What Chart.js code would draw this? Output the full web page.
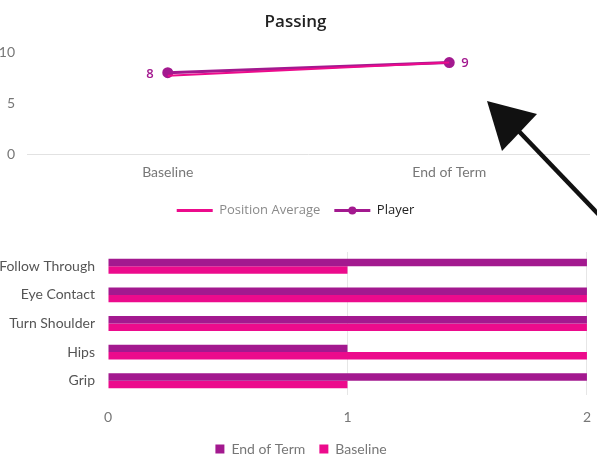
<!DOCTYPE html>
<html>
<head>
<meta charset="utf-8">
<script src="https://cdn.jsdelivr.net/npm/chart.js@4.4.1/dist/chart.umd.min.js"></script>
<style>
    body { margin: 0; background: #fff; width: 597px; height: 461px; overflow: hidden; position: relative; }
    #lineBox { position: absolute; left: 0; top: 0; width: 597px; height: 228px; }
    #barBox { position: absolute; left: 0; top: 228px; width: 605px; height: 238px; }
    #arrow { position: absolute; left: 0; top: 0; pointer-events: none; }
</style>
</head>
<body>
<div id="lineBox"><canvas id="lineChart"></canvas></div>
<div id="barBox"><canvas id="barChart"></canvas></div>
<svg id="arrow" width="597" height="461">
    <line x1="600" y1="216" x2="510" y2="122" stroke="#111" stroke-width="4.5" />
    <polygon points="487,101 537,114 502,151" fill="#111" />
</svg>

<script>
// line chart data
const periods = ["Baseline", "End of Term"];
const positionAverage = [7.7, 9];
const player = [8, 9];
const lineTicks = [0, 5, 10];

// bar chart data
const skills = ["Follow Through", "Eye Contact", "Turn Shoulder", "Hips", "Grip"];
const endOfTerm = [2, 2, 2, 1, 2];
const baseline = [1, 2, 2, 2, 1];

const purple = "#a3198f";
const pink = "#ec0b8c";
const tickFont = { family: "Lato", size: 14 };

// draws the 8 / 9 labels next to the player points and the marker in the legend
const playerExtras = {
    id: "playerExtras",
    afterDatasetsDraw(chart) {
        const ctx = chart.ctx;
        const meta = chart.getDatasetMeta(1);
        ctx.save();
        ctx.fillStyle = purple;
        ctx.font = "600 13px 'Open Sans'";
        ctx.textBaseline = "middle";
        meta.data.forEach((pt, i) => {
            const txt = String(player[i]);
            if (i === 0) {
                ctx.textAlign = "right";
                ctx.fillText(txt, pt.x - 14, pt.y + 2);
            } else {
                ctx.textAlign = "left";
                ctx.fillText(txt, pt.x + 12, pt.y + 1);
            }
        });
        ctx.restore();
    },
    afterDraw(chart) {
        const box = chart.legend.legendHitBoxes[1];
        if (!box) return;
        const ctx = chart.ctx;
        ctx.save();
        ctx.fillStyle = purple;
        ctx.beginPath();
        ctx.arc(box.left + 18, box.top + box.height / 2, 4, 0, Math.PI * 2);
        ctx.fill();
        ctx.restore();
    }
};

new Chart(document.getElementById("lineChart").getContext("2d"), {
    type: "line",
    data: {
        labels: periods,
        datasets: [{
            label: "Position Average",
            data: positionAverage,
            borderColor: pink,
            backgroundColor: pink,
            borderWidth: 2,
            pointRadius: 0,
            fill: false,
            tension: 0
        }, {
            label: "Player",
            data: player,
            borderColor: purple,
            backgroundColor: purple,
            borderWidth: 3,
            pointRadius: 4,
            pointHoverRadius: 4,
            fill: false,
            tension: 0
        }]
    },
    options: {
        responsive: true,
        maintainAspectRatio: false,
        animation: false,
        layout: { padding: { top: 12, right: 6, bottom: 1, left: 0 } },
        plugins: {
            title: {
                display: true,
                text: "Passing",
                color: "#222",
                font: { family: "Open Sans", size: 17, weight: "600" },
                padding: { top: 0, bottom: 20 }
            },
            legend: {
                position: "bottom",
                labels: {
                    boxWidth: 36,
                    boxHeight: 3,
                    padding: 14,
                    font: { family: "Open Sans", size: 13 },
                    generateLabels(chart) {
                        return chart.data.datasets.map((ds, i) => ({
                            text: ds.label,
                            fillStyle: ds.borderColor,
                            strokeStyle: ds.borderColor,
                            lineWidth: 0,
                            fontColor: i === 0 ? "#8a8a8a" : "#222",
                            hidden: false,
                            datasetIndex: i
                        }));
                    }
                }
            },
            tooltip: { enabled: false }
        },
        scales: {
            x: {
                offset: true,
                afterFit(scale) { scale.height = 36; },
                grid: { display: false },
                border: { display: false },
                ticks: { color: "#777", font: tickFont, padding: 2 }
            },
            y: {
                min: 0,
                max: 10,
                afterFit(scale) { scale.width = 27; },
                grid: {
                    drawTicks: false,
                    color: (c) => c.tick && c.tick.value === 0 ? "#e2e2e2" : "rgba(0,0,0,0)"
                },
                border: { display: false },
                ticks: {
                    stepSize: 5,
                    color: "#777",
                    font: tickFont,
                    padding: 12,
                    callback: (v) => lineTicks.includes(v) ? v : ""
                }
            }
        }
    },
    plugins: [playerExtras]
});

new Chart(document.getElementById("barChart").getContext("2d"), {
    type: "bar",
    data: {
        labels: skills,
        datasets: [{
            label: "End of Term",
            data: endOfTerm,
            backgroundColor: purple,
            barPercentage: 1,
            categoryPercentage: 0.52
        }, {
            label: "Baseline",
            data: baseline,
            backgroundColor: pink,
            barPercentage: 1,
            categoryPercentage: 0.52
        }]
    },
    options: {
        indexAxis: "y",
        responsive: true,
        maintainAspectRatio: false,
        animation: false,
        layout: { padding: { top: 24, right: 3, bottom: 0, left: 0 } },
        plugins: {
            legend: {
                position: "bottom",
                labels: {
                    boxWidth: 9,
                    boxHeight: 9,
                    padding: 14,
                    color: "#777",
                    font: { family: "Lato", size: 14 }
                }
            },
            tooltip: { enabled: false }
        },
        scales: {
            x: {
                min: 0,
                max: 2,
                afterFit(scale) { scale.height = 33; },
                grid: {
                    drawTicks: false,
                    color: (c) => c.tick && c.tick.value === 0 ? "rgba(0,0,0,0)" : "#e6e6e6"
                },
                border: { display: false },
                ticks: { stepSize: 1, color: "#777", font: tickFont, padding: 14 }
            },
            y: {
                afterFit(scale) { scale.width = 108; },
                grid: { display: false, drawTicks: false },
                border: { display: false },
                ticks: { color: "#555", font: tickFont, padding: 13 }
            }
        }
    }
});
</script>
</body>
</html>
